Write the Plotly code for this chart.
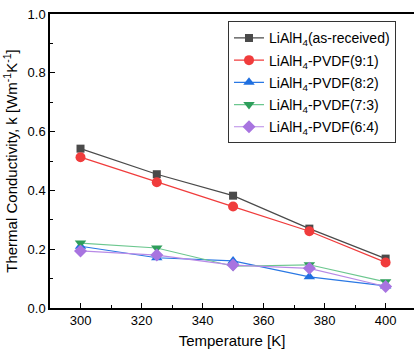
import plotly.graph_objects as go

temperature = [300, 325, 350, 375, 400]
k_as_received = [0.542, 0.455, 0.382, 0.270, 0.168]
k_91 = [0.513, 0.428, 0.345, 0.261, 0.155]
k_82 = [0.210, 0.171, 0.160, 0.106, 0.075]
k_73 = [0.221, 0.204, 0.142, 0.147, 0.089]
k_64 = [0.194, 0.180, 0.146, 0.135, 0.073]

names = ["LiAlH<sub>4</sub>(as-received)", "LiAlH<sub>4</sub>-PVDF(9:1)",
         "LiAlH<sub>4</sub>-PVDF(8:2)", "LiAlH<sub>4</sub>-PVDF(7:3)",
         "LiAlH<sub>4</sub>-PVDF(6:4)"]
series = [k_as_received, k_91, k_82, k_73, k_64]
line_colors = ["#4a4a4a", "#f03c3c", "#2a78e4", "#6cc78f", "#b88ae6"]
marker_colors = ["#4a4a4a", "#f03c3c", "#1f6fe0", "#2e9e5b", "#a874e0"]
symbols = ["square", "circle", "triangle-up", "triangle-down", "diamond"]
sizes = [8, 10, 10, 10, 10]

fig = go.Figure()
for i, (n, s, lc, mc, sym, sz) in enumerate(zip(names, series, line_colors, marker_colors, symbols, sizes)):
    fig.add_trace(go.Scatter(x=temperature, y=s, name=n, mode="lines+markers",
                             legendgroup=f"g{i}",
                             line=dict(color=lc, width=1.2),
                             marker=dict(symbol=sym, size=sz, color=mc)))

font = "Liberation Sans, Arial, sans-serif"
fig.update_layout(
    width=414, height=351,
    margin=dict(l=50, r=0, t=14, b=43),
    plot_bgcolor="white", paper_bgcolor="white",
    font=dict(family=font, size=13, color="black"),
    showlegend=True,
    legend=dict(x=0.489, y=0.975, xanchor="left", yanchor="top",
                bordercolor="#333", borderwidth=1, bgcolor="white",
                font=dict(size=14, family=font), tracegroupgap=1,
                itemwidth=30),
    xaxis=dict(range=[290, 409.3], tickvals=[300, 320, 340, 360, 380, 400],
               ticks="inside", ticklen=5, tickwidth=1.2, tickcolor="black",
               showline=True, linecolor="black", linewidth=1.5, mirror=True,
               showgrid=False, zeroline=False, automargin=False,
               minor=dict(tickvals=[310, 330, 350, 370, 390], ticks="inside", ticklen=3, tickcolor="black"),
               title=dict(text="Temperature [K]", font=dict(size=15), standoff=8)),
    yaxis=dict(range=[0, 1.0], tickvals=[0, 0.2, 0.4, 0.6, 0.8, 1.0], tickformat=".1f",
               ticks="inside", ticklen=5, tickwidth=1.2, tickcolor="black",
               showline=True, linecolor="black", linewidth=1.5,
               showgrid=False, zeroline=False, automargin=False,
               minor=dict(tickvals=[0.1, 0.3, 0.5, 0.7, 0.9], ticks="inside", ticklen=3, tickcolor="black"),
               title=dict(text="Thermal Conductivity, k [Wm<sup>-1</sup>K<sup>-1</sup>]", font=dict(size=15), standoff=6)),
)
fig.write_html("out.html", config={"displayModeBar": False},
               post_script="document.body.style.margin='0';")
